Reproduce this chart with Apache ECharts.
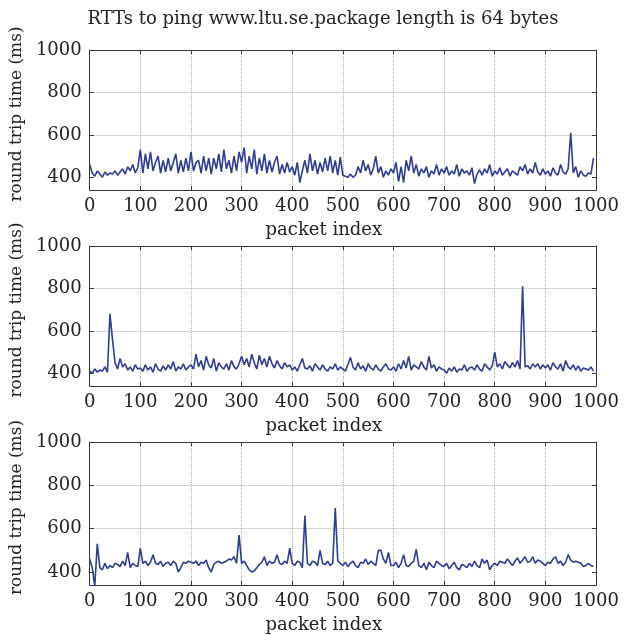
<!DOCTYPE html>
<html>
<head>
<meta charset="utf-8">
<script src="https://cdn.jsdelivr.net/npm/echarts@6/dist/echarts.min.js"></script>
<style>
  html, body { margin: 0; padding: 0; background: #fff; }
  #main { width: 634px; height: 635px; }
</style>
</head>
<body>
<div id="main"></div>
<script>
// RTT samples, one value every 5 packets (packet 0..995)
const sampleStep = 5;
const xTicks = [0, 100, 200, 300, 400, 500, 600, 700, 800, 900, 1000];
const yTicks = [400, 600, 800, 1000];

const rttPing1 = [
    460,420,405,430,415,400,425,410,420,415,430,410,425,440,415,450,430,460,420,445,
    530,420,510,440,520,430,470,500,420,480,425,490,430,470,510,420,480,425,490,430,
    520,430,470,480,420,500,430,490,415,490,440,510,425,530,440,480,420,500,430,520,
    470,540,420,500,440,530,415,490,430,510,420,480,425,470,500,415,460,420,470,425,
    450,410,470,375,430,480,420,510,430,480,415,470,425,490,430,500,420,480,410,495,
    410,405,400,415,400,410,450,420,480,430,460,410,440,500,420,450,400,430,410,440,
    420,470,380,450,375,480,430,500,420,460,405,440,420,450,400,430,415,460,410,440,
    420,450,410,430,415,460,405,440,420,430,410,445,370,415,435,410,440,420,460,405,
    430,415,445,410,425,440,405,430,420,410,450,430,460,415,440,420,470,425,410,440,
    415,430,405,445,420,410,460,425,415,440,610,420,450,400,430,410,405,420,415,490
];

const rttPing2 = [
    410,400,420,405,415,410,430,405,680,560,450,420,470,430,445,415,430,410,440,420,
    425,410,440,415,430,405,445,420,410,435,415,440,420,455,410,430,420,445,415,430,
    440,420,490,430,460,415,480,440,425,470,410,450,430,420,445,415,460,430,420,445,
    480,440,470,430,490,450,420,485,440,470,430,480,445,425,460,435,420,450,430,440,
    415,430,410,440,470,425,420,435,410,445,430,415,440,420,410,430,420,445,415,430,
    420,410,440,475,430,415,450,420,435,410,445,425,415,440,420,410,430,445,420,415,
    430,410,445,420,460,425,480,415,440,430,420,455,430,415,480,425,440,410,430,420,
    415,400,425,410,430,405,420,415,440,410,425,430,415,440,420,410,445,430,415,435,
    500,430,445,420,455,440,425,450,430,460,420,810,430,435,420,445,430,445,420,440,
    425,440,415,450,430,420,445,410,460,430,420,440,415,435,410,425,420,415,430,410
];

const rttPing3 = [
    460,420,335,530,420,410,440,415,430,420,440,435,425,450,430,490,420,440,430,425,
    510,440,450,430,445,480,440,435,450,425,440,445,430,450,440,400,420,445,440,450,
    445,440,450,430,445,440,455,420,400,435,445,450,440,445,450,460,455,470,440,570,
    440,450,430,410,400,405,420,435,445,470,430,450,440,445,480,440,435,450,440,510,
    440,430,450,445,420,660,440,430,450,445,430,500,440,435,450,430,440,695,450,440,
    430,445,425,440,450,430,420,445,440,460,435,450,440,430,500,500,460,440,490,430,
    430,445,420,440,480,430,425,440,450,505,430,420,440,410,445,430,420,450,440,430,
    425,440,415,430,445,420,410,435,430,420,440,425,450,430,420,460,440,455,410,430,
    440,430,450,445,440,460,445,430,450,465,440,455,470,445,450,470,440,455,450,440,
    430,445,440,460,470,440,450,430,445,480,455,445,450,445,440,425,430,440,430,425
];

const chartTitle = 'RTTs to ping www.ltu.se.package length is 64 bytes';
const xName = 'packet index';
const yName = 'round trip time (ms)';

const serifFont = 'DejaVu Serif';
const inkColor = '#222';
const boxColor = '#333';
const gridColor = '#aaa';
const lineColor = '#2d3c96';

// panel placement
const panels = [
    { top: 50, height: 140, data: rttPing1 },
    { top: 246, height: 140, data: rttPing2 },
    { top: 442, height: 143, data: rttPing3 }
];

function toPairs(values) {
    return values.map((v, i) => [i * sampleStep, v]);
}

const grids = [];
const xAxes = [];
const yAxes = [];
const series = [];

panels.forEach(function(p, i) {
    grids.push({ left: 88, right: 38, top: p.top, height: p.height });

    // bottom axis with labels
    xAxes.push({
        gridIndex: i, type: 'value', min: 0, max: 1000, interval: 100,
        axisLine: { show: true, onZero: false, lineStyle: { color: boxColor, width: 1 } },
        axisTick: { show: true, inside: true, length: 4, lineStyle: { color: boxColor } },
        axisLabel: { fontFamily: serifFont, fontSize: 18, color: inkColor, margin: 7,
            formatter: v => String(v) },
        splitLine: { show: true, showMinLine: false, showMaxLine: false,
            lineStyle: { type: 'dotted', color: gridColor, width: 1 } },
        name: xName, nameLocation: 'middle', nameGap: 31,
        nameTextStyle: { fontFamily: serifFont, fontSize: 18, color: inkColor, padding: [0, 38, 0, 0] }
    });
    // top box edge
    xAxes.push({
        gridIndex: i, type: 'value', position: 'top', min: 0, max: 1000, interval: 100,
        axisLine: { show: true, onZero: false, lineStyle: { color: boxColor, width: 1 } },
        axisTick: { show: true, inside: true, length: 4, lineStyle: { color: boxColor } },
        axisLabel: { show: false }, splitLine: { show: false }
    });

    yAxes.push({
        gridIndex: i, type: 'value', min: 340, max: 1000,
        axisLine: { show: true, onZero: false, lineStyle: { color: boxColor, width: 1 } },
        axisTick: { show: true, inside: true, length: 4, customValues: yTicks, lineStyle: { color: boxColor } },
        axisLabel: { customValues: yTicks, fontFamily: serifFont, fontSize: 18, color: inkColor, margin: 8,
            formatter: v => String(v) },
        splitLine: { show: true, showMinLine: false, showMaxLine: false,
            lineStyle: { type: 'dotted', color: gridColor, width: 1 } },
        name: yName, nameLocation: 'middle', nameGap: 58,
        nameTextStyle: { fontFamily: serifFont, fontSize: 17, color: inkColor, padding: [0, 0, 0, 12] }
    });
    yAxes.push({
        gridIndex: i, type: 'value', position: 'right', min: 340, max: 1000,
        axisLine: { show: true, onZero: false, lineStyle: { color: boxColor, width: 1 } },
        axisTick: { show: true, inside: true, length: 4, customValues: yTicks, lineStyle: { color: boxColor } },
        axisLabel: { show: false }, splitLine: { show: false }
    });

    series.push({
        type: 'line',
        xAxisIndex: i * 2,
        yAxisIndex: i * 2,
        data: toPairs(p.data),
        showSymbol: false,
        clip: true,
        lineStyle: { color: lineColor, width: 1.6 },
        itemStyle: { color: lineColor }
    });
});

let chart = echarts.init(document.getElementById('main'), null, { renderer: 'canvas' });

let option = {
    animation: false,
    backgroundColor: '#fff',
    graphic: [{
        type: 'text',
        x: 323, y: 19,
        style: {
            text: chartTitle,
            fontFamily: serifFont, fontSize: 18, fill: inkColor,
            textAlign: 'center', textVerticalAlign: 'middle'
        }
    }],
    grid: grids,
    xAxis: xAxes,
    yAxis: yAxes,
    series: series
};

chart.setOption(option);
</script>
</body>
</html>
